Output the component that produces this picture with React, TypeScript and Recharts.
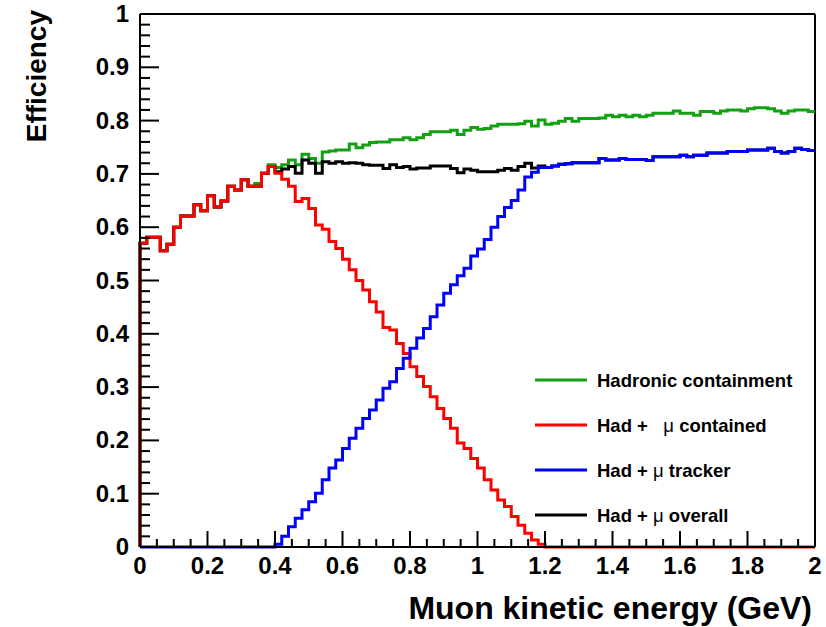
import React from 'react';
import { LineChart, Line, XAxis, YAxis, ReferenceLine, Legend } from 'recharts';

// Histogram bins: 100 bins of width 0.02 GeV from 0 to 2 GeV
const BIN_WIDTH = 0.02;

const hadronicContainment = [
  0.570, 0.581, 0.581, 0.556, 0.568, 0.600, 0.621, 0.621, 0.642, 0.631,
  0.659, 0.638, 0.649, 0.677, 0.670, 0.689, 0.677, 0.682, 0.701, 0.717,
  0.712, 0.717, 0.726, 0.717, 0.737, 0.729, 0.720, 0.741, 0.743, 0.745,
  0.745, 0.756, 0.749, 0.754, 0.759, 0.760, 0.760, 0.764, 0.764, 0.768,
  0.764, 0.768, 0.774, 0.779, 0.779, 0.779, 0.782, 0.774, 0.782, 0.787,
  0.784, 0.785, 0.790, 0.793, 0.793, 0.793, 0.794, 0.799, 0.790, 0.801,
  0.793, 0.795, 0.799, 0.804, 0.799, 0.804, 0.804, 0.804, 0.805, 0.810,
  0.807, 0.810, 0.807, 0.810, 0.807, 0.810, 0.814, 0.814, 0.814, 0.818,
  0.814, 0.814, 0.810, 0.817, 0.817, 0.814, 0.818, 0.820, 0.820, 0.818,
  0.822, 0.824, 0.824, 0.822, 0.818, 0.814, 0.818, 0.820, 0.820, 0.817,
];

const hadMuContained = [
  0.570, 0.581, 0.581, 0.556, 0.568, 0.600, 0.621, 0.621, 0.642, 0.631,
  0.659, 0.638, 0.649, 0.677, 0.670, 0.689, 0.677, 0.677, 0.701, 0.714,
  0.701, 0.690, 0.677, 0.648, 0.654, 0.635, 0.604, 0.596, 0.573, 0.560,
  0.540, 0.520, 0.500, 0.482, 0.460, 0.441, 0.412, 0.407, 0.382, 0.363,
  0.338, 0.320, 0.301, 0.282, 0.260, 0.241, 0.223, 0.195, 0.185, 0.166,
  0.148, 0.126, 0.107, 0.088, 0.076, 0.057, 0.041, 0.026, 0.013, 0.005,
  0, 0, 0, 0, 0, 0, 0, 0, 0, 0,
  0, 0, 0, 0, 0, 0, 0, 0, 0, 0,
  0, 0, 0, 0, 0, 0, 0, 0, 0, 0,
  0, 0, 0, 0, 0, 0, 0, 0, 0, 0,
];

const hadMuTracker = [
  0, 0, 0, 0, 0, 0, 0, 0, 0, 0,
  0, 0, 0, 0, 0, 0, 0, 0, 0, 0,
  0.005, 0.020, 0.038, 0.054, 0.070, 0.085, 0.101, 0.126, 0.148, 0.163,
  0.185, 0.204, 0.223, 0.241, 0.257, 0.276, 0.298, 0.310, 0.335, 0.354,
  0.373, 0.392, 0.410, 0.432, 0.454, 0.476, 0.492, 0.509, 0.523, 0.546,
  0.559, 0.577, 0.600, 0.620, 0.637, 0.650, 0.670, 0.694, 0.703, 0.712,
  0.712, 0.715, 0.718, 0.719, 0.721, 0.721, 0.721, 0.721, 0.729, 0.726,
  0.726, 0.729, 0.727, 0.727, 0.727, 0.725, 0.732, 0.732, 0.732, 0.732,
  0.735, 0.732, 0.735, 0.735, 0.739, 0.739, 0.739, 0.742, 0.742, 0.742,
  0.745, 0.745, 0.745, 0.748, 0.742, 0.739, 0.742, 0.748, 0.746, 0.744,
];

const hadMuOverall = [
  0.570, 0.581, 0.581, 0.556, 0.568, 0.600, 0.621, 0.621, 0.642, 0.631,
  0.659, 0.638, 0.649, 0.677, 0.670, 0.689, 0.677, 0.677, 0.701, 0.714,
  0.704, 0.709, 0.714, 0.701, 0.726, 0.720, 0.701, 0.723, 0.720, 0.723,
  0.720, 0.721, 0.720, 0.717, 0.716, 0.716, 0.710, 0.717, 0.712, 0.714,
  0.709, 0.711, 0.711, 0.715, 0.715, 0.715, 0.710, 0.702, 0.709, 0.707,
  0.704, 0.704, 0.704, 0.707, 0.710, 0.707, 0.714, 0.720, 0.711, 0.715,
  0.712, 0.715, 0.718, 0.719, 0.721, 0.721, 0.721, 0.721, 0.729, 0.726,
  0.726, 0.729, 0.727, 0.727, 0.727, 0.725, 0.732, 0.732, 0.732, 0.732,
  0.735, 0.732, 0.735, 0.735, 0.739, 0.739, 0.739, 0.742, 0.742, 0.742,
  0.745, 0.745, 0.745, 0.748, 0.742, 0.739, 0.742, 0.748, 0.746, 0.744,
];

const xMajorTicks = [0, 0.2, 0.4, 0.6, 0.8, 1, 1.2, 1.4, 1.6, 1.8, 2];
const yMajorTicks = [0, 0.1, 0.2, 0.3, 0.4, 0.5, 0.6, 0.7, 0.8, 0.9, 1];
const X_MINOR_DIV = 4;
const Y_MINOR_DIV = 5;

const series = [
  { key: 'green', name: 'Hadronic containment', color: '#13a013', values: hadronicContainment },
  { key: 'black', name: 'Had + \u03bc overall', color: '#000000', values: hadMuOverall },
  { key: 'red', name: 'Had +   \u03bc contained', color: '#ff0000', values: hadMuContained },
  { key: 'blue', name: 'Had + \u03bc tracker', color: '#0000ff', values: hadMuTracker },
];
const legendOrder = ['green', 'red', 'blue', 'black'];

const r4 = (v: number) => Math.round(v * 10000) / 10000;

const subdivide = (majors: number[], div: number) => {
  const out: number[] = [];
  for (let i = 0; i < majors.length - 1; i++) {
    const a = majors[i];
    const b = majors[i + 1];
    for (let k = 0; k < div; k++) out.push(r4(a + ((b - a) * k) / div));
  }
  out.push(majors[majors.length - 1]);
  return out;
};

const xTicks = subdivide(xMajorTicks, X_MINOR_DIV);
const yTicks = subdivide(yMajorTicks, Y_MINOR_DIV);

const buildData = () => {
  const rows: any[] = [];
  const first: any = { x: 0 };
  series.forEach((s) => (first[s.key] = 0));
  rows.push(first);
  const n = hadronicContainment.length;
  for (let i = 0; i < n; i++) {
    const row: any = { x: r4(i * BIN_WIDTH) };
    series.forEach((s) => (row[s.key] = s.values[i]));
    rows.push(row);
  }
  const last: any = { x: r4(n * BIN_WIDTH) };
  series.forEach((s) => (last[s.key] = s.values[n - 1]));
  rows.push(last);
  return rows;
};
const data = buildData();

const FONT = '"Liberation Sans", Arial, Helvetica, sans-serif';

const isMajor = (v: number, majors: number[]) => majors.some((m) => Math.abs(m - v) < 1e-6);
const fmt = (v: number) => String(Math.round(v * 10) / 10);

const XTick = (props: any) => {
  const { x, y, payload } = props;
  const v = payload.value;
  const major = isMajor(v, xMajorTicks);
  return (
    <g>
      <line x1={x} x2={x} y1={y} y2={y - (major ? 16 : 8)} stroke="#000" strokeWidth={2} />
      {major && (
        <text x={x} y={y + 27} textAnchor="middle" fontFamily={FONT} fontWeight="bold" fontSize={24} fill="#000">
          {fmt(v)}
        </text>
      )}
    </g>
  );
};

const YTick = (props: any) => {
  const { x, y, payload } = props;
  const v = payload.value;
  const major = isMajor(v, yMajorTicks);
  return (
    <g>
      <line x1={x} x2={x + (major ? 19 : 10)} y1={y} y2={y} stroke="#000" strokeWidth={2} />
      {major && (
        <text x={x - 11} y={y + 8} textAnchor="end" fontFamily={FONT} fontWeight="bold" fontSize={24} fill="#000">
          {fmt(v)}
        </text>
      )}
    </g>
  );
};

const LegendBox = () => {
  const rowsY = [380, 425, 470, 515];
  return (
    <svg width={826} height={627} style={{ position: 'absolute', left: 0, top: 0, overflow: 'visible' }}>
      {legendOrder.map((k, i) => {
        const s = series.find((q) => q.key === k)!;
        const parts = s.name.split('\u03bc');
        return (
          <g key={k}>
            <line x1={535} x2={587} y1={rowsY[i]} y2={rowsY[i]} stroke={s.color} strokeWidth={3} />
            <text
              x={597}
              y={rowsY[i] + 7}
              fontFamily={FONT}
              fontWeight="bold"
              fontSize={18.5}
              fill="#000"
              style={{ whiteSpace: 'pre' }}
            >
              {parts.length > 1 ? (
                <>
                  {parts[0]}
                  <tspan fontWeight="normal">{'\u03bc'}</tspan>
                  {parts[1]}
                </>
              ) : (
                s.name
              )}
            </text>
          </g>
        );
      })}
      <text
        x={812}
        y={619}
        textAnchor="end"
        fontFamily={FONT}
        fontWeight="bold"
        fontSize={32}
        fill="#000"
      >
        Muon kinetic energy (GeV)
      </text>
      <text
        x={46}
        y={10}
        textAnchor="end"
        transform="rotate(-90 46 10)"
        fontFamily={FONT}
        fontWeight="bold"
        fontSize={28}
        fill="#000"
      >
        Efficiency
      </text>
    </svg>
  );
};

export default function App() {
  return (
    <div style={{ position: 'absolute', left: 0, top: 0, width: 826, height: 627, background: '#fff' }}>
      <LineChart
        width={826}
        height={627}
        data={data}
        margin={{ top: 14, right: 11, bottom: 0, left: 0 }}
      >
        <XAxis
          dataKey="x"
          type="number"
          domain={[0, 2]}
          ticks={xTicks}
          interval={0}
          tick={<XTick />}
          tickLine={false}
          tickSize={0}
          tickMargin={0}
          height={80}
          axisLine={{ stroke: '#000', strokeWidth: 2 }}
        />
        <YAxis
          type="number"
          domain={[0, 1]}
          ticks={yTicks}
          interval={0}
          tick={<YTick />}
          tickLine={false}
          tickSize={0}
          tickMargin={0}
          width={140}
          axisLine={{ stroke: '#000', strokeWidth: 2 }}
        />
        <ReferenceLine y={1} stroke="#000" strokeWidth={2} />
        <ReferenceLine x={2} stroke="#000" strokeWidth={2} />
        {series.map((s) => (
          <Line
            key={s.key}
            dataKey={s.key}
            name={s.name}
            type="stepAfter"
            stroke={s.color}
            strokeWidth={3}
            dot={false}
            activeDot={false}
            isAnimationActive={false}
            strokeLinejoin="miter"
          />
        ))}
        <Legend
          verticalAlign="middle"
          align="center"
          layout="horizontal"
          content={() => <LegendBox />}
          wrapperStyle={{ position: 'absolute', left: 0, top: 0, width: 826, height: 627, pointerEvents: 'none' }}
        />
      </LineChart>
    </div>
  );
}
